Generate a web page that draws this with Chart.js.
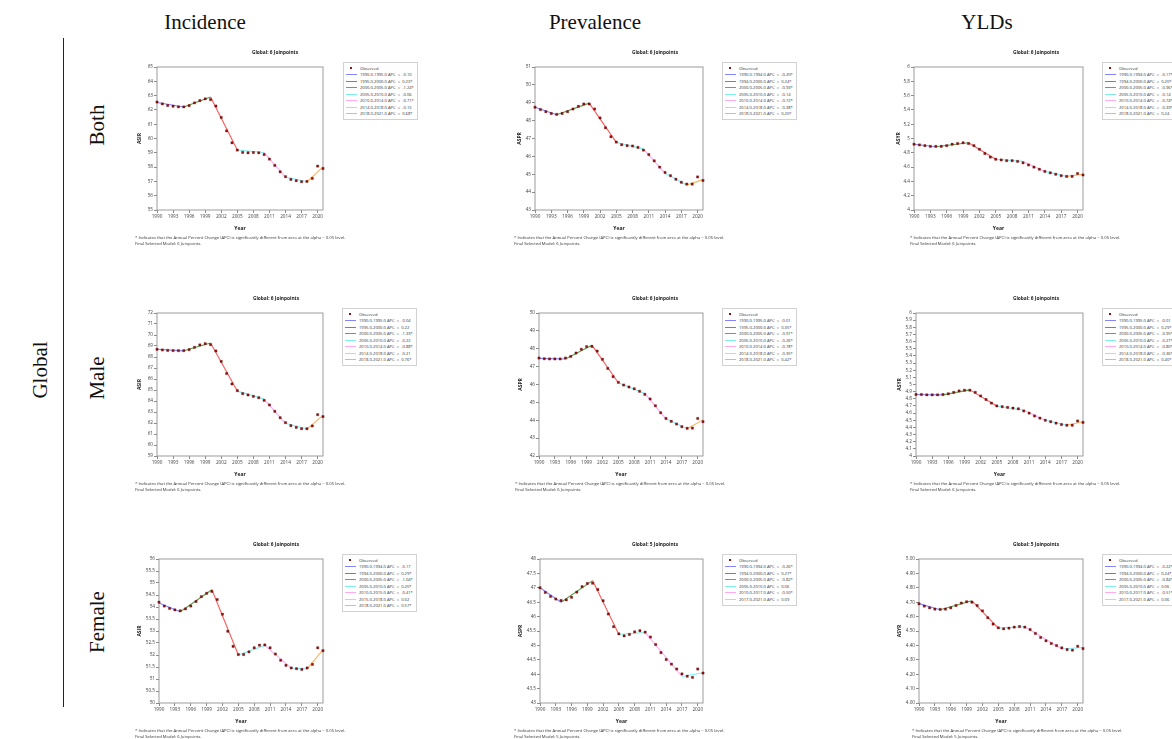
<!DOCTYPE html>
<html>
<head>
<meta charset="utf-8">
<script src="https://cdn.jsdelivr.net/npm/chart.js@4.4.1/dist/chart.umd.min.js"></script>
<style>
  body { margin: 0; background: #fff; }
  #page { position: relative; width: 1172px; height: 739px; overflow: hidden; background: #fff; font-family: 'Open Sans', sans-serif; }
  .hdr { position: absolute; font-family: 'Liberation Serif', 'Times New Roman', serif; font-size: 21px; color: #111; white-space: nowrap; transform: translate(-50%, -50%); }
  .hdr.rot { transform: translate(-50%, -50%) rotate(-90deg); }
  #vline { position: absolute; left: 63px; top: 38px; width: 1px; height: 669px; background: #222; }
  canvas { position: absolute; }
  .legend { position: absolute; border: 1px solid #d2d2d2; background: #fff; padding: 2px 3px 2px 2px; font-size: 4.1px; color: #333; }
  .legend .row { display: flex; align-items: center; height: 6.5px; white-space: pre; }
  .legend .sw { width: 11px; height: 6.5px; position: relative; margin-right: 3px; flex: none; }
  .legend .sw i { position: absolute; display: block; }
  .foot { position: absolute; font-size: 4.2px; line-height: 6.5px; color: #333; white-space: pre; }
</style>
</head>
<body>
<div id="page">
  <div class="hdr" style="left:205px; top:22px;">Incidence</div>
  <div class="hdr" style="left:595px; top:22px;">Prevalence</div>
  <div class="hdr" style="left:987px; top:22px;">YLDs</div>
  <div class="hdr rot" style="left:40px; top:370px;">Global</div>
  <div class="hdr rot" style="left:97px; top:125px;">Both</div>
  <div class="hdr rot" style="left:97px; top:378px;">Male</div>
  <div class="hdr rot" style="left:97px; top:622px;">Female</div>
  <div id="vline"></div>
</div>
<script>
const years = [1990, 1991, 1992, 1993, 1994, 1995, 1996, 1997, 1998, 1999, 2000, 2001, 2002, 2003, 2004, 2005,
  2006, 2007, 2008, 2009, 2010, 2011, 2012, 2013, 2014, 2015, 2016, 2017, 2018, 2019, 2020, 2021];
const xTicks = [1990, 1993, 1996, 1999, 2002, 2005, 2008, 2011, 2014, 2017, 2020];

// Incidence, both sexes
const incBothObs = [62.55, 62.42, 62.31, 62.26, 62.21, 62.21, 62.30, 62.49, 62.65, 62.77, 62.72, 62.27, 61.47, 60.53, 59.70, 59.19,
  59.03, 59.00, 59.02, 59.00, 58.88, 58.56, 58.12, 57.67, 57.33, 57.14, 57.05, 56.98, 57.00, 57.21, 58.07, 57.90];
const incBothJp = [1990, 1995, 2000, 2005, 2010, 2014, 2018, 2021];
const incBothFit = [62.52, 62.20, 62.90, 59.20, 59.02, 57.30, 56.97, 58.02];
const incBothApc = ['-0.10', '0.23*', '-1.24*', '-0.06', '-0.71*', '-0.15', '0.68*'];

// Prevalence, both sexes
const prevBothObs = [48.75, 48.62, 48.50, 48.40, 48.35, 48.40, 48.50, 48.65, 48.80, 48.93, 48.93, 48.65, 48.15, 47.60, 47.10, 46.80,
  46.65, 46.60, 46.58, 46.50, 46.35, 46.10, 45.75, 45.40, 45.10, 44.92, 44.72, 44.55, 44.45, 44.45, 44.85, 44.65];
const prevBothJp = [1990, 1994, 2000, 2005, 2010, 2014, 2018, 2021];
const prevBothFit = [48.75, 48.33, 48.98, 46.78, 46.42, 45.05, 44.40, 44.70];
const prevBothApc = ['-0.20*', '0.24*', '-0.93*', '-0.14', '-0.72*', '-0.38*', '0.20*'];

// YLDs, both sexes
const yldBothObs = [4.92, 4.91, 4.90, 4.89, 4.89, 4.89, 4.90, 4.92, 4.93, 4.94, 4.93, 4.90, 4.85, 4.79, 4.74, 4.71,
  4.70, 4.69, 4.69, 4.68, 4.66, 4.63, 4.60, 4.57, 4.54, 4.52, 4.50, 4.48, 4.47, 4.47, 4.51, 4.49];
const yldBothJp = [1990, 1994, 2000, 2005, 2010, 2014, 2018, 2021];
const yldBothFit = [4.92, 4.885, 4.94, 4.71, 4.68, 4.54, 4.47, 4.50];
const yldBothApc = ['-0.17*', '0.20*', '-0.96*', '-0.14', '-0.74*', '-0.39*', '0.24'];

// Incidence, male
const incMaleObs = [68.70, 68.64, 68.60, 68.58, 68.58, 68.58, 68.67, 68.88, 69.10, 69.21, 69.12, 68.55, 67.60, 66.50, 65.55, 64.94,
  64.67, 64.55, 64.42, 64.30, 64.06, 63.64, 63.06, 62.48, 62.03, 61.76, 61.60, 61.48, 61.48, 61.73, 62.76, 62.58];
const incMaleJp = [1990, 1995, 2000, 2005, 2010, 2014, 2018, 2021];
const incMaleFit = [68.70, 68.56, 69.28, 64.90, 64.18, 61.97, 61.45, 62.70];
const incMaleApc = ['-0.04', '0.22', '-1.33*', '-0.22', '-0.88*', '-0.21', '0.76*'];

// Prevalence, male
const prevMaleObs = [47.48, 47.44, 47.43, 47.43, 47.43, 47.48, 47.57, 47.76, 47.97, 48.12, 48.13, 47.87, 47.41, 46.90, 46.44, 46.12,
  45.97, 45.86, 45.76, 45.62, 45.45, 45.19, 44.81, 44.42, 44.10, 43.94, 43.79, 43.64, 43.55, 43.56, 44.10, 43.92];
const prevMaleJp = [1990, 1995, 2000, 2005, 2010, 2014, 2018, 2021];
const prevMaleFit = [47.46, 47.43, 48.20, 46.10, 45.50, 44.08, 43.52, 44.02];
const prevMaleApc = ['-0.01', '0.35*', '-0.91*', '-0.26*', '-0.78*', '-0.35*', '0.42*'];

// YLDs, male
const yldMaleObs = [4.86, 4.86, 4.855, 4.855, 4.855, 4.86, 4.87, 4.89, 4.91, 4.92, 4.92, 4.89, 4.84, 4.79, 4.74, 4.70,
  4.69, 4.68, 4.67, 4.66, 4.63, 4.60, 4.56, 4.53, 4.50, 4.48, 4.46, 4.44, 4.43, 4.43, 4.49, 4.47];
const yldMaleJp = [1990, 1995, 2000, 2005, 2010, 2014, 2018, 2021];
const yldMaleFit = [4.86, 4.855, 4.925, 4.70, 4.64, 4.50, 4.43, 4.48];
const yldMaleApc = ['-0.01', '0.29*', '-0.95*', '-0.27*', '-0.80*', '-0.36*', '0.40*'];

// Incidence, female
const incFemObs = [54.20, 54.04, 53.94, 53.88, 53.84, 53.92, 54.04, 54.23, 54.43, 54.57, 54.65, 54.31, 53.70, 52.99, 52.36, 52.02,
  52.02, 52.13, 52.30, 52.41, 52.42, 52.30, 52.04, 51.78, 51.57, 51.46, 51.43, 51.40, 51.46, 51.61, 52.30, 52.18];
const incFemJp = [1990, 1994, 2000, 2005, 2010, 2015, 2018, 2021];
const incFemFit = [54.17, 53.80, 54.72, 52.00, 52.40, 51.45, 51.42, 52.22];
const incFemApc = ['-0.17', '0.29*', '-1.04*', '0.20*', '-0.41*', '0.02', '0.57*'];

// Prevalence, female
const prevFemObs = [47.00, 46.84, 46.70, 46.61, 46.56, 46.58, 46.67, 46.85, 47.04, 47.15, 47.16, 46.94, 46.55, 46.09, 45.65, 45.40,
  45.33, 45.38, 45.47, 45.51, 45.46, 45.29, 45.03, 44.75, 44.51, 44.35, 44.18, 44.01, 43.93, 43.89, 44.18, 44.04];
const prevFemJp = [1990, 1994, 2000, 2005, 2010, 2017, 2021];
const prevFemFit = [47.00, 46.50, 47.25, 45.38, 45.45, 43.92, 44.05];
const prevFemApc = ['-0.26*', '0.27*', '-0.82*', '0.06', '-0.50*', '0.09'];

// YLDs, female
const yldFemObs = [4.689, 4.673, 4.661, 4.652, 4.650, 4.652, 4.661, 4.677, 4.694, 4.703, 4.700, 4.677, 4.640, 4.592, 4.548, 4.522,
  4.515, 4.520, 4.527, 4.531, 4.527, 4.510, 4.483, 4.455, 4.432, 4.413, 4.399, 4.383, 4.371, 4.367, 4.394, 4.378];
const yldFemJp = [1990, 1994, 2000, 2005, 2010, 2017, 2021];
const yldFemFit = [4.69, 4.648, 4.71, 4.52, 4.53, 4.375, 4.385];
const yldFemApc = ['-0.22*', '0.24*', '-0.84*', '0.06', '-0.51*', '0.06'];

const segColors = ['#8484ff', '#5c9e4e', '#ff5a5a', '#7deeea', '#ffaaf2', '#80f0ff', '#ffb060'];
const footText = '* Indicates that the Annual Percent Change (APC) is significantly different from zero at the alpha = 0.05 level.';

// panel setup: data + axis range, then where it sits on the page
const panels = [
  { obs: incBothObs, jp: incBothJp, fit: incBothFit, apc: incBothApc, yTitle: 'ASIR', yMin: 55, yMax: 65, yStep: 1,
    g: { L: 157, R: 323, T: 67, B: 210, titleX: 275, yTitleX: 140, legX: 343, legY: 62, footX: 135 } },
  { obs: prevBothObs, jp: prevBothJp, fit: prevBothFit, apc: prevBothApc, yTitle: 'ASPR', yMin: 43, yMax: 51, yStep: 1,
    g: { L: 535, R: 703, T: 67, B: 210, titleX: 655, yTitleX: 520, legX: 722, legY: 62, footX: 514 } },
  { obs: yldBothObs, jp: yldBothJp, fit: yldBothFit, apc: yldBothApc, yTitle: 'ASYR', yMin: 4, yMax: 6, yStep: 0.2,
    g: { L: 914, R: 1083, T: 67, B: 210, titleX: 1036, yTitleX: 899, legX: 1102, legY: 62, footX: 910 } },
  { obs: incMaleObs, jp: incMaleJp, fit: incMaleFit, apc: incMaleApc, yTitle: 'ASIR', yMin: 59, yMax: 72, yStep: 1,
    g: { L: 157, R: 323, T: 313, B: 456, titleX: 276, yTitleX: 140, legX: 342, legY: 308, footX: 135 } },
  { obs: prevMaleObs, jp: prevMaleJp, fit: prevMaleFit, apc: prevMaleApc, yTitle: 'ASPR', yMin: 42, yMax: 50, yStep: 1,
    g: { L: 539, R: 703, T: 313, B: 456, titleX: 655, yTitleX: 521, legX: 722, legY: 308, footX: 515 } },
  { obs: yldMaleObs, jp: yldMaleJp, fit: yldMaleFit, apc: yldMaleApc, yTitle: 'ASYR', yMin: 4, yMax: 6, yStep: 0.1,
    g: { L: 916, R: 1083, T: 313, B: 456, titleX: 1036, yTitleX: 900, legX: 1102, legY: 308, footX: 910 } },
  { obs: incFemObs, jp: incFemJp, fit: incFemFit, apc: incFemApc, yTitle: 'ASIR', yMin: 50, yMax: 56, yStep: 0.5,
    g: { L: 159, R: 323, T: 559, B: 703, titleX: 276, yTitleX: 140, legX: 342, legY: 554, footX: 135 } },
  { obs: prevFemObs, jp: prevFemJp, fit: prevFemFit, apc: prevFemApc, yTitle: 'ASPR', yMin: 43, yMax: 48, yStep: 0.5,
    g: { L: 540, R: 703, T: 559, B: 703, titleX: 655, yTitleX: 521, legX: 722, legY: 554, footX: 514 } },
  { obs: yldFemObs, jp: yldFemJp, fit: yldFemFit, apc: yldFemApc, yTitle: 'ASYR', yMin: 4, yMax: 5, yStep: 0.1, yFixed: 2,
    g: { L: 919, R: 1083, T: 559, B: 703, titleX: 1036, yTitleX: 900, legX: 1102, legY: 554, footX: 912 } }
];

const FONT = "'Open Sans', sans-serif";

// grey frame round the plot area
const boxBorder = {
  id: 'boxBorder',
  beforeDatasetsDraw(chart) {
    const { ctx, chartArea: a } = chart;
    ctx.save();
    ctx.strokeStyle = '#9c9c9c';
    ctx.lineWidth = 1;
    ctx.strokeRect(a.left, a.top, a.width, a.height);
    ctx.restore();
  }
};

const page = document.getElementById('page');

panels.forEach(p => {
  const g = p.g;
  const cLeft = g.yTitleX - 5;
  const cRight = 2 * g.titleX - cLeft;
  const cTop = g.T - 22;
  const cBottom = g.B + 26;

  const canvas = document.createElement('canvas');
  canvas.width = cRight - cLeft;
  canvas.height = cBottom - cTop;
  canvas.style.left = cLeft + 'px';
  canvas.style.top = cTop + 'px';
  page.appendChild(canvas);

  const datasets = [{
    label: 'Observed',
    data: years.map((yr, i) => ({ x: yr, y: p.obs[i] })),
    pointStyle: 'rect',
    pointRadius: 1.6,
    backgroundColor: '#8e1212',
    borderColor: '#5a0808',
    borderWidth: 0.3,
    showLine: false,
    clip: false
  }];
  for (let k = 0; k < p.jp.length - 1; k++) {
    datasets.push({
      label: `${p.jp[k]}.0-${p.jp[k + 1]}.0 APC  =  ${p.apc[k]}`,
      data: [{ x: p.jp[k], y: p.fit[k] }, { x: p.jp[k + 1], y: p.fit[k + 1] }],
      showLine: true,
      borderColor: segColors[k],
      backgroundColor: segColors[k],
      borderWidth: 1.1,
      pointRadius: 0,
      clip: false
    });
  }

  const tickFont = { family: FONT, size: 4.7 };
  const chart = new Chart(canvas.getContext('2d'), {
    type: 'scatter',
    data: { datasets },
    options: {
      responsive: false,
      devicePixelRatio: 1,
      animation: false,
      layout: { padding: 0 },
      plugins: {
        legend: { display: false },
        tooltip: { enabled: false },
        title: {
          display: true,
          text: `Global: ${p.jp.length - 2} Joinpoints`,
          color: '#222',
          font: { family: FONT, size: 4.8, weight: 'bold', lineHeight: 1.25 },
          padding: { top: 5, bottom: 11 }
        }
      },
      scales: {
        x: {
          type: 'linear',
          min: 1990,
          max: 2021,
          afterBuildTicks: s => { s.ticks = xTicks.map(v => ({ value: v })); },
          afterFit: s => { s.height = 26; },
          ticks: { font: tickFont, color: '#444', padding: 1, maxRotation: 0, autoSkip: false, callback: v => String(v) },
          grid: { drawOnChartArea: false, tickLength: 3, color: '#8a8a8a' },
          border: { display: false },
          title: { display: true, text: 'Year', color: '#222', font: { family: FONT, size: 5, weight: 'bold', lineHeight: 1.2 }, padding: { top: 0, bottom: 4.5 } }
        },
        y: {
          type: 'linear',
          position: 'left',
          min: p.yMin,
          max: p.yMax,
          afterFit: s => { s.width = g.L - cLeft; },
          ticks: {
            stepSize: p.yStep,
            autoSkip: false,
            font: tickFont,
            color: '#444',
            padding: 1,
            callback: v => p.yFixed ? v.toFixed(p.yFixed) : String(Math.round(v * 100) / 100)
          },
          grid: { drawOnChartArea: false, tickLength: 3, color: '#8a8a8a' },
          border: { display: false },
          title: { display: true, text: p.yTitle, color: '#222', font: { family: FONT, size: 5, weight: 'bold', lineHeight: 1.2 }, padding: { top: 2, bottom: 0 } }
        },
        // empty right-hand axis that keeps room for the legend box
        pad: {
          type: 'linear',
          position: 'right',
          display: true,
          afterFit: s => { s.width = cRight - g.R; },
          ticks: { display: false },
          grid: { display: false },
          border: { display: false }
        }
      }
    },
    plugins: [boxBorder]
  });

  // legend box built from the chart's datasets
  const box = document.createElement('div');
  box.className = 'legend';
  box.style.left = g.legX + 'px';
  box.style.top = g.legY + 'px';
  chart.data.datasets.forEach((ds, i) => {
    const row = document.createElement('div');
    row.className = 'row';
    const sw = document.createElement('span');
    sw.className = 'sw';
    const mark = document.createElement('i');
    if (i === 0) {
      mark.style.cssText = 'left:4px;top:1.8px;width:2.4px;height:2.4px;background:#8e1212;';
    } else {
      mark.style.cssText = `left:0;top:2.8px;width:11px;height:1px;background:${ds.borderColor};`;
    }
    sw.appendChild(mark);
    row.appendChild(sw);
    row.appendChild(document.createTextNode(ds.label));
    box.appendChild(row);
  });
  page.appendChild(box);

  const foot = document.createElement('div');
  foot.className = 'foot';
  foot.style.left = g.footX + 'px';
  foot.style.top = (g.B + 24.5) + 'px';
  foot.textContent = footText + '\nFinal Selected Model: ' + (p.jp.length - 2) + ' Joinpoints.';
  page.appendChild(foot);
});
</script>
</body>
</html>
